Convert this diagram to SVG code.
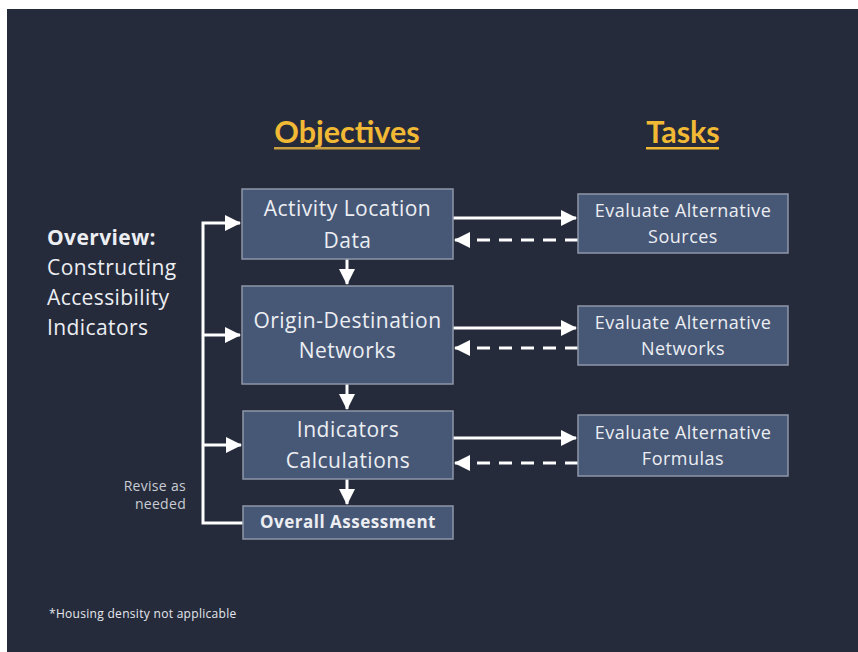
<svg xmlns="http://www.w3.org/2000/svg" width="858" height="652" viewBox="0 0 858 652">
<style>
.box{fill:#475877;stroke:#8d96a8;stroke-width:1.5}
.t{font-family:"Open Sans","Liberation Sans",sans-serif;fill:#eceef2;text-anchor:middle}
.obj{font-size:21px;letter-spacing:0.5px}
.task{font-size:18px;letter-spacing:0.5px}
.hd{font-family:Lato,"Liberation Sans",sans-serif;font-weight:bold;font-size:30.5px;fill:#f2b935;text-anchor:middle}
.ln{stroke:#ffffff;stroke-width:3;fill:none}
.dash{stroke-dasharray:13 9}
</style>
<defs>
<marker id="ah" markerUnits="userSpaceOnUse" markerWidth="16" markerHeight="16" viewBox="0 0 16 16" refX="15" refY="8" orient="auto">
<path d="M0,0 L16,8 L0,16 Z" fill="#ffffff"/>
</marker>
</defs>
<rect x="0" y="0" width="858" height="652" fill="#ffffff"/>
<rect x="7" y="9" width="851" height="643" fill="#252b3b"/>

<g id="headers">
<text class="hd" x="347" y="143">Objectives</text>
<rect x="274" y="147" width="146" height="2.5" fill="#c9a040"/>
<text class="hd" x="683" y="143">Tasks</text>
<rect x="646" y="147" width="73" height="2.5" fill="#f2b935"/>
</g>

<g id="overview" font-family="'Open Sans','Liberation Sans',sans-serif" font-size="21" letter-spacing="0.4" fill="#eceef2">
<text x="47" y="245" font-weight="bold">Overview:</text>
<text x="47" y="275">Constructing</text>
<text x="47" y="305">Accessibility</text>
<text x="47" y="335">Indicators</text>
</g>

<g id="connectors">
<path class="ln" d="M243,523 H203 V223 H240" marker-end="url(#ah)"/>
<path class="ln" d="M203,335 H240" marker-end="url(#ah)"/>
<path class="ln" d="M203,445 H241" marker-end="url(#ah)"/>
<path class="ln" d="M347,259 V284" marker-end="url(#ah)"/>
<path class="ln" d="M347,384 V409" marker-end="url(#ah)"/>
<path class="ln" d="M347,479 V504" marker-end="url(#ah)"/>
<path class="ln" d="M453,218 H576" marker-end="url(#ah)"/>
<path class="ln dash" d="M578,240 H455" marker-end="url(#ah)"/>
<path class="ln" d="M453,328 H576" marker-end="url(#ah)"/>
<path class="ln dash" d="M578,348 H455" marker-end="url(#ah)"/>
<path class="ln" d="M453,438 H576" marker-end="url(#ah)"/>
<path class="ln dash" d="M578,463 H455" marker-end="url(#ah)"/>
</g>

<g id="n-activity">
<rect class="box" x="242" y="189" width="211" height="70"/>
<text class="t obj" x="347.5" y="216">Activity Location</text>
<text class="t obj" x="347.5" y="247.5">Data</text>
</g>
<g id="n-od">
<rect class="box" x="242" y="286" width="211" height="98"/>
<text class="t obj" x="347.5" y="328">Origin-Destination</text>
<text class="t obj" x="347.5" y="358">Networks</text>
</g>
<g id="n-indicators">
<rect class="box" x="243" y="411" width="210" height="68"/>
<text class="t obj" x="348" y="437">Indicators</text>
<text class="t obj" x="348" y="468">Calculations</text>
</g>
<g id="n-overall">
<rect class="box" x="243" y="506" width="210" height="33"/>
<text class="t" x="348" y="528" font-size="17" font-weight="bold" letter-spacing="0.5">Overall Assessment</text>
</g>

<g id="t-sources">
<rect class="box" x="578" y="194" width="210" height="59"/>
<text class="t task" x="683" y="217">Evaluate Alternative</text>
<text class="t task" x="683" y="243">Sources</text>
</g>
<g id="t-networks">
<rect class="box" x="578" y="306" width="210" height="59"/>
<text class="t task" x="683" y="329">Evaluate Alternative</text>
<text class="t task" x="683" y="355">Networks</text>
</g>
<g id="t-formulas">
<rect class="box" x="578" y="415" width="210" height="61"/>
<text class="t task" x="683" y="439">Evaluate Alternative</text>
<text class="t task" x="683" y="465">Formulas</text>
</g>

<g id="notes" font-family="'Open Sans','Liberation Sans',sans-serif" fill="#c9ccd3">
<text x="186" y="491" font-size="14" letter-spacing="0.3" text-anchor="end">Revise as</text>
<text x="186" y="509" font-size="14" letter-spacing="0.3" text-anchor="end">needed</text>
<text x="49" y="618" font-size="12" letter-spacing="0.3" fill="#e6e8ec">*Housing density not applicable</text>
</g>
</svg>
